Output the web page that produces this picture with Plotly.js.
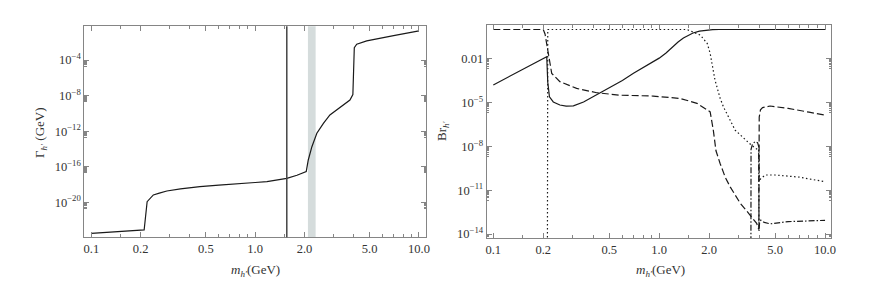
<!DOCTYPE html>
<html>
<head>
<meta charset="utf-8">
<script src="https://cdn.plot.ly/plotly-3.0.1.min.js"></script>
<style>html,body{margin:0;padding:0;background:#fff;}#chart{width:872px;height:303px;}</style>
</head>
<body>
<div id="chart"></div>
<script>
// ---- Left panel: total width Gamma_h' vs m_h' ----
const widthMass = [0.1, 0.15, 0.21, 0.219, 0.239, 0.26, 0.289, 0.35, 0.46, 0.6, 0.74, 1.0, 1.18, 1.42, 1.56, 1.8, 2.05, 2.11, 2.22, 2.38, 2.61, 2.86, 3.3, 3.79, 3.95, 4.0, 4.03, 4.17, 4.8, 7.0, 10.0];
const widthGamma = [3.3e-24, 5.0e-24, 7.9e-24, 1.2e-20, 6.8e-20, 1.1e-19, 1.9e-19, 3.2e-19, 5.9e-19, 8.5e-19, 1.2e-18, 1.7e-18, 2.1e-18, 3.9e-18, 5.0e-18, 1.1e-17, 2.8e-17, 5.8e-16, 1.8e-14, 5.8e-13, 7.6e-12, 6.6e-11, 4.8e-10, 3.2e-9, 1.3e-8, 1.0e-5, 2.5e-3, 5.9e-3, 1.4e-2, 5.6e-2, 0.19];
const cutoffMass = 1.56;
const bandMass = [2.10, 2.34];

// ---- Right panel: branching ratios ----
const solidMass = [0.1, 0.21, 0.213, 0.218, 0.23, 0.252, 0.275, 0.304, 0.35, 0.4, 0.5, 0.6, 0.7, 0.8, 0.9, 1.0, 1.1, 1.2, 1.3, 1.4, 1.5, 1.6, 1.75, 1.9, 2.1, 2.3, 10.0];
const solidBr = [1.6e-4, 1.4e-2, 2.5e-4, 2.5e-5, 1.1e-5, 6.8e-6, 5.8e-6, 6.0e-6, 1.1e-5, 2.5e-5, 9.3e-5, 3.2e-4, 1.0e-3, 2.5e-3, 5.6e-3, 1.1e-2, 2.5e-2, 6.3e-2, 0.14, 0.26, 0.42, 0.58, 0.78, 0.91, 0.98, 1.0, 1.0];

const dashMass = [0.1, 0.2, 0.205, 0.21, 0.215, 0.225, 0.252, 0.318, 0.42, 0.58, 0.92, 1.34, 1.69, 2.03, 2.12, 2.2, 2.33, 2.5, 2.68, 3.08, 3.53, 3.87, 3.99, 4.01, 4.08, 4.2, 4.66, 6.0, 8.0, 10.0];
const dashBr = [1.0, 1.0, 0.5, 0.1, 2.3e-2, 1.0e-3, 2.7e-4, 9.3e-5, 4.7e-5, 3.2e-5, 2.8e-5, 1.9e-5, 8.9e-6, 2.3e-6, 1.3e-7, 5.0e-9, 6.8e-10, 7.9e-11, 1.7e-11, 1.3e-12, 2.0e-13, 5.4e-14, 2.0e-14, 1.0e-6, 3.2e-6, 4.5e-6, 5.8e-6, 4.0e-6, 2.2e-6, 1.4e-6];

const dotMass = [0.1, 0.211, 0.213, 1.47, 1.77, 1.95, 2.03, 2.17, 2.33, 2.44, 2.87, 3.3, 3.6, 3.9, 4.0, 4.02, 4.1, 4.36, 5.0, 7.0, 10.0];
const dotBr = [1e-30, 1e-30, 1.0, 1.0, 0.42, 0.11, 2.3e-2, 3.5e-4, 2.0e-5, 5.1e-6, 1.3e-7, 3.2e-8, 1.2e-8, 6.3e-9, 4.0e-9, 4.0e-11, 6.3e-11, 1.1e-10, 1.1e-10, 7.9e-11, 3.8e-11];

const dashDotMass = [0.1, 3.56, 3.58, 3.65, 3.78, 3.92, 3.98, 4.0, 4.03, 4.1, 4.3, 4.66, 6.0, 10.0];
const dashDotBr = [1e-30, 1e-30, 6.3e-9, 1.4e-8, 2.1e-8, 1.8e-8, 1.0e-8, 1.6e-14, 6.3e-14, 8.9e-14, 6.3e-14, 5.0e-14, 7.1e-14, 8.7e-14];

// ---- tick labels ----
const xTickVals = [0.1, 0.2, 0.5, 1, 2, 5, 10];
const xTickText = ['0.1', '0.2', '0.5', '1.0', '2.0', '5.0', '10.0'];
const xMinorVals = [0.15, 0.3, 0.4, 0.6, 0.7, 0.8, 0.9, 1.5, 3, 4, 6, 7, 8, 9];
const gammaTickVals = [1e-20, 1e-16, 1e-12, 1e-8, 1e-4];
const gammaTickText = ['10<sup>\u221220</sup>', '10<sup>\u221216</sup>', '10<sup>\u221212</sup>', '10<sup>\u22128</sup>', '10<sup>\u22124</sup>'];
const brTickVals = [1e-14, 1e-11, 1e-8, 1e-5, 1e-2];
const brTickText = ['10<sup>\u221214</sup>', '10<sup>\u221211</sup>', '10<sup>\u22128</sup>', '10<sup>\u22125</sup>', '0.01'];

function subTicks(majors) {
  const out = [];
  majors.forEach(m => { for (let k = 2; k <= 9; k++) out.push(m * k / 10); });
  return out;
}

const frame = '#858585';
const serif = 'Liberation Serif';
const font = {family: serif, size: 12.5, color: '#333'};

function xAxis(domain, anchor) {
  return {
    type: 'log', domain: domain, anchor: anchor,
    tickmode: 'array', tickvals: xTickVals, ticktext: xTickText,
    ticks: 'inside', ticklen: 5, tickwidth: 1, tickcolor: frame,
    minor: {tickmode: 'array', tickvals: xMinorVals, ticks: 'inside', ticklen: 3, tickwidth: 1, tickcolor: frame},
    showline: true, linecolor: frame, linewidth: 1, mirror: 'ticks',
    showgrid: false, zeroline: false, tickfont: font
  };
}
function yAxis(domain, anchor, range, vals, text) {
  return {
    type: 'log', domain: domain, anchor: anchor, range: range,
    tickmode: 'array', tickvals: vals, ticktext: text,
    ticks: 'inside', ticklen: 5, tickwidth: 1, tickcolor: frame,
    minor: {tickmode: 'array', tickvals: subTicks(vals), ticks: 'inside', ticklen: 2.5, tickwidth: 1, tickcolor: frame},
    showline: true, linecolor: frame, linewidth: 1, mirror: 'ticks',
    showgrid: false, zeroline: false, tickfont: font
  };
}

const traces = [
  {x: widthMass, y: widthGamma, xaxis: 'x', yaxis: 'y', mode: 'lines', line: {color: '#1a1a1a', width: 1.2}},
  {x: solidMass, y: solidBr, xaxis: 'x2', yaxis: 'y2', mode: 'lines', line: {color: '#1a1a1a', width: 1.2}},
  {x: dashMass, y: dashBr, xaxis: 'x2', yaxis: 'y2', mode: 'lines', line: {color: '#1a1a1a', width: 1.2, dash: '7px,3px'}},
  {x: dotMass, y: dotBr, xaxis: 'x2', yaxis: 'y2', mode: 'lines', line: {color: '#1a1a1a', width: 1.2, dash: '1.5px,2.5px'}},
  {x: dashDotMass, y: dashDotBr, xaxis: 'x2', yaxis: 'y2', mode: 'lines', line: {color: '#1a1a1a', width: 1.2, dash: '6px,2px,1.5px,2px'}}
];

const xTitle = '<i>m</i><sub><i>h\u2032</i></sub>(GeV)';
const titleFont = {family: serif, size: 13, color: '#333'};
const layout = {
  width: 872, height: 303,
  margin: {l: 0, r: 0, t: 0, b: 0},
  paper_bgcolor: '#fff', plot_bgcolor: '#fff',
  font: {family: serif},
  showlegend: false,
  xaxis: Object.assign(xAxis([0.0967, 0.4889], 'y'), {range: [-1.043, 1.045]}),
  yaxis: yAxis([0.2168, 0.9132], 'x', [-23.93, -0.21], gammaTickVals, gammaTickText),
  xaxis2: Object.assign(xAxis([0.5581, 0.9530], 'y2'), {range: [-1.040, 1.036]}),
  yaxis2: yAxis([0.2145, 0.9185], 'x2', [-14.27, 0.33], brTickVals, brTickText),
  shapes: [
    {type: 'rect', xref: 'x', yref: 'y domain', x0: bandMass[0], x1: bandMass[1], y0: 0, y1: 1,
     fillcolor: '#d5dcdc', line: {width: 0}, layer: 'below'},
    {type: 'line', xref: 'x', yref: 'y domain', x0: cutoffMass, x1: cutoffMass, y0: 0, y1: 1,
     line: {color: '#444', width: 1.5}}
  ],
  annotations: [
    {text: xTitle, xref: 'paper', yref: 'paper', x: 255 / 872, y: (303 - 270) / 303, showarrow: false,
     font: titleFont, xanchor: 'center', yanchor: 'middle'},
    {text: xTitle, xref: 'paper', yref: 'paper', x: 660 / 872, y: (303 - 270) / 303, showarrow: false,
     font: titleFont, xanchor: 'center', yanchor: 'middle'},
    {text: '\u0393<sub><i>h\u2032</i></sub> (GeV)', xref: 'paper', yref: 'paper', x: 40 / 872, y: (303 - 133) / 303, showarrow: false,
     textangle: -90, font: titleFont, xanchor: 'center', yanchor: 'middle'},
    {text: 'Br<sub><i>h\u2032</i></sub>', xref: 'paper', yref: 'paper', x: 442 / 872, y: (303 - 131) / 303, showarrow: false,
     textangle: -90, font: titleFont, xanchor: 'center', yanchor: 'middle'}
  ]
};

Plotly.newPlot('chart', traces, layout, {staticPlot: true, displayModeBar: false});
</script>
</body>
</html>
